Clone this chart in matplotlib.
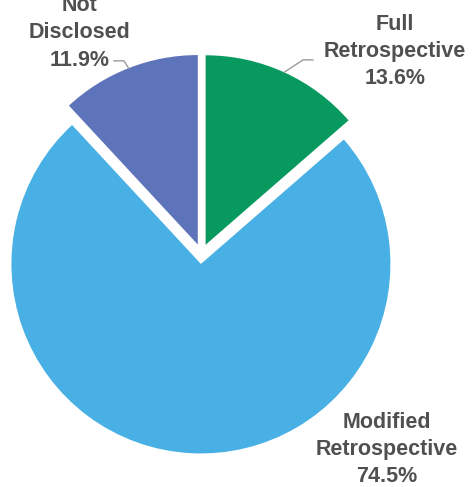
import numpy as np
import matplotlib.pyplot as plt

# adoption method shares
labels = ["Full\nRetrospective", "Modified\nRetrospective", "Not\nDisclosed"]
shares = [13.6, 74.5, 11.9]
colors = ["#08995F", "#48B0E4", "#5D74BA"]

fig = plt.figure(figsize=(4.77, 4.87), dpi=100)
ax = fig.add_axes([0, 0, 1, 1])

wedges, _ = ax.pie(shares, colors=colors, startangle=90, counterclock=False,
                   explode=[0.053] * 3, radius=1.0)

ax.set_xlim(-1.063, 1.454)
ax.set_ylim(-1.230, 1.340)
ax.set_aspect("equal")
ax.axis("off")

txt = dict(fontsize=15.5, fontweight="bold", color="#505050", ha="center",
           va="center", linespacing=1.38, family=["Liberation Sans", "DejaVu Sans"])

# label block centres
label_pos = [(1.021, 1.068), (0.979, -1.032), (-0.641, 1.166)]
for lab, val, (tx, ty) in zip(labels, shares, label_pos):
    ax.text(tx, ty, f"{lab}\n{val}%", **txt)

# short leader lines for the two small slices
def leader(w, elbow_x, elbow_y, end_x):
    mid = np.deg2rad((w.theta1 + w.theta2) / 2)
    cx, cy = w.center
    ax.plot([cx + w.r * np.cos(mid), elbow_x, end_x], [cy + w.r * np.sin(mid), elbow_y, elbow_y],
            color="#9a9a9a", lw=1.0)

leader(wedges[0], 0.536, 1.024, 0.588)
leader(wedges[2], -0.409, 1.019, -0.462)

fig.savefig("out.png", dpi=100, facecolor="white")
